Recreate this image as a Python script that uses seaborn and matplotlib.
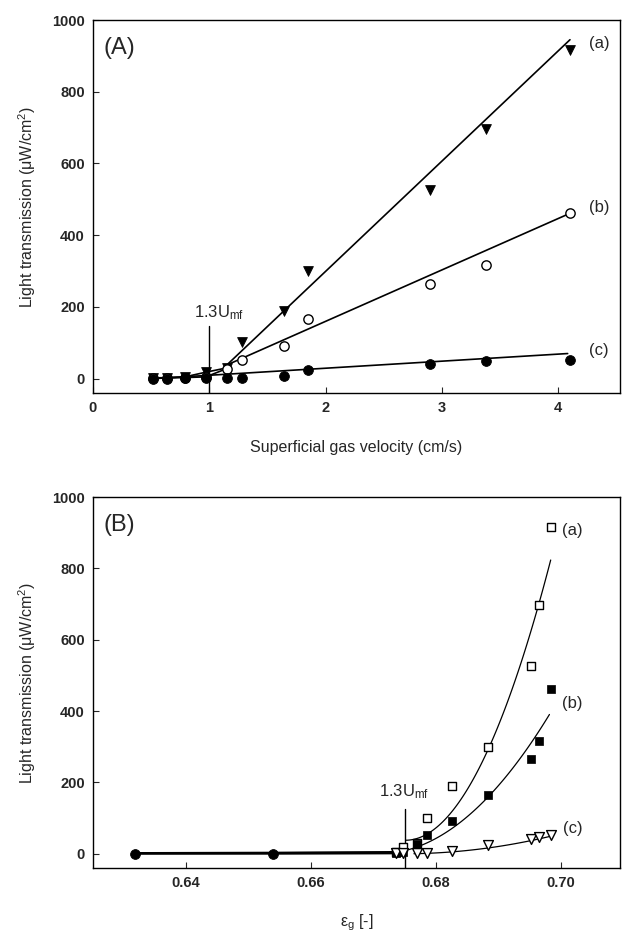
import numpy as np
import pandas as pd
import matplotlib
matplotlib.use("Agg")
import matplotlib.pyplot as plt
import seaborn as sns

# ---------------- data ----------------
velocity = [0.52, 0.64, 0.79, 0.97, 1.15, 1.28, 1.64, 1.85, 2.90, 3.38, 4.10]
voidage = [0.6318, 0.6539, 0.6736, 0.6747, 0.6770, 0.6786, 0.6826, 0.6883, 0.6952, 0.6965, 0.6984]
trans_a = [2, 3, 5, 18, 30, 101, 190, 300, 525, 697, 915]
trans_b = [1, 2, 3, 5, 28, 53, 92, 165, 265, 316, 461]
trans_c = [0, 0, 1, 1, 2, 3, 7, 25, 42, 48, 53]

# fitted lines of panel A (end points)
fitA_a_x, fitA_a_y = [1.15, 4.10], [38, 945]
fitA_b_x, fitA_b_y = [1.15, 4.10], [38, 461]
fitA_c_x, fitA_c_y = [0.52, 4.08], [0, 70]

# fitted curves of panel B (points on the curves)
fitB_a_x, fitB_a_y = [0.6787, 0.6883, 0.6965, 0.6984], [56, 290, 698, 825]
fitB_b_x, fitB_b_y = [0.6755, 0.6826, 0.6883, 0.6982], [8, 80, 150, 392]
fitB_c_x, fitB_c_y = [0.6765, 0.6826, 0.6883, 0.6952, 0.6984], [0, 5, 17, 35, 50]

umf_velocity, umf_top_A = 1.0, 148
umf_voidage, umf_top_B = 0.6750, 124
series_labels = ["(a)", "(b)", "(c)"]
labelA_x, labelA_y = 4.35, [935, 478, 78]
labelB_x, labelB_y = 0.7019, [906, 422, 70]

# ---------------- style ----------------
sns.set_theme(style="ticks")
plt.rcParams["font.family"] = ["Liberation Sans", "DejaVu Sans"]
plt.rcParams["mathtext.default"] = "regular"
plt.rcParams["axes.edgecolor"] = "black"
plt.rcParams["axes.linewidth"] = 1.0

fig = plt.figure(figsize=(6.26, 9.39), dpi=100)
axA = fig.add_axes([93 / 626, 1 - 393 / 939, (620 - 93) / 626, (393 - 20) / 939])
axB = fig.add_axes([93 / 626, 1 - 868 / 939, (620 - 93) / 626, (868 - 497) / 939])

k = dict(color="black", legend=False, linewidth=1.2)

# ---------------- panel A ----------------
dfA = pd.DataFrame({"v": velocity, "a": trans_a, "b": trans_b, "c": trans_c})
pre = dfA.iloc[:5]
sns.lineplot(data=pre, x="v", y="a", ax=axA, **k)
sns.lineplot(data=pre, x="v", y="b", ax=axA, **k)
sns.lineplot(x=fitA_a_x, y=fitA_a_y, ax=axA, **k)
sns.lineplot(x=fitA_b_x, y=fitA_b_y, ax=axA, **k)
sns.lineplot(x=fitA_c_x, y=fitA_c_y, ax=axA, **k)
sns.scatterplot(data=dfA, x="v", y="a", marker="v", s=50, color="black",
                edgecolor="black", ax=axA, zorder=3)
sns.scatterplot(data=dfA, x="v", y="b", marker="o", s=45, facecolor="white",
                edgecolor="black", linewidth=1.0, ax=axA, zorder=3)
sns.scatterplot(data=dfA, x="v", y="c", marker="o", s=50, color="black",
                edgecolor="black", ax=axA, zorder=4)
axA.plot([umf_velocity, umf_velocity], [-40, umf_top_A], color="black", lw=1.0)
axA.text(umf_velocity + 0.08, umf_top_A + 35, "1.3U$_{mf}$", ha="center",
         va="center", fontsize=12)
for lab, yy in zip(series_labels, labelA_y):
    axA.text(labelA_x, yy, lab, ha="center", va="center", fontsize=12)
axA.text(0.02, 0.925, "(A)", transform=axA.transAxes, fontsize=17,
         ha="left", va="center")
axA.set_xlim(0, 4.53)
axA.set_ylim(-40, 1000)
axA.set_xticks([0, 1, 2, 3, 4])
axA.set_yticks([0, 200, 400, 600, 800, 1000])
axA.set_xlabel("Superficial gas velocity (cm/s)", fontsize=11.5, labelpad=18)
axA.set_ylabel("Light transmission (μW/cm$^2$)", fontsize=11.5, labelpad=10)

# ---------------- panel B ----------------
dfB = pd.DataFrame({"e": voidage, "a": trans_a, "b": trans_b, "c": trans_c})
low = dfB.iloc[:4]
high = dfB.iloc[2:]
for col in ["a", "b", "c"]:
    sns.lineplot(data=low, x="e", y=col, ax=axB, color="black", legend=False,
                 linewidth=1.4)
for fx, fy, x0 in [(fitB_a_x, fitB_a_y, 0.6752), (fitB_b_x, fitB_b_y, 0.6752),
                   (fitB_c_x, fitB_c_y, 0.6765)]:
    coef = np.polyfit(fx, fy, 2)
    xs = np.linspace(x0, fx[-1], 80)
    sns.lineplot(x=xs, y=np.polyval(coef, xs), ax=axB, color="black",
                 legend=False, linewidth=0.9)
sns.scatterplot(data=high, x="e", y="a", marker="s", s=40, facecolor="white",
                edgecolor="black", linewidth=1.0, ax=axB, zorder=3)
sns.scatterplot(data=high, x="e", y="b", marker="s", s=40, color="black",
                edgecolor="black", ax=axB, zorder=3)
sns.scatterplot(data=high, x="e", y="c", marker="v", s=50, facecolor="white",
                edgecolor="black", linewidth=1.0, ax=axB, zorder=3)
sns.scatterplot(data=dfB.iloc[:2], x="e", y="c", marker="o", s=50, color="black",
                edgecolor="black", ax=axB, zorder=4)
axB.plot([umf_voidage, umf_voidage], [-40, umf_top_B], color="black", lw=1.0)
axB.text(umf_voidage, umf_top_B + 50, "1.3U$_{mf}$", ha="center",
         va="center", fontsize=12)
for lab, yy in zip(series_labels, labelB_y):
    axB.text(labelB_x, yy, lab, ha="center", va="center", fontsize=12)
axB.text(0.02, 0.925, "(B)", transform=axB.transAxes, fontsize=17,
         ha="left", va="center")
axB.set_xlim(0.6251, 0.7095)
axB.set_ylim(-40, 1000)
axB.set_xticks([0.64, 0.66, 0.68, 0.70])
axB.set_xticklabels(["0.64", "0.66", "0.68", "0.70"])
axB.set_yticks([0, 200, 400, 600, 800, 1000])
axB.set_xlabel("ε$_g$ [-]", fontsize=11.5, labelpad=16)
axB.set_ylabel("Light transmission (μW/cm$^2$)", fontsize=11.5, labelpad=10)

for ax in (axA, axB):
    ax.tick_params(direction="in", length=4, width=0.8, labelsize=10.5, pad=6)
    for t in ax.get_xticklabels() + ax.get_yticklabels():
        t.set_fontweight("bold")
    for sp in ax.spines.values():
        sp.set_visible(True)
        sp.set_color("black")

fig.savefig("out.png", dpi=100)
